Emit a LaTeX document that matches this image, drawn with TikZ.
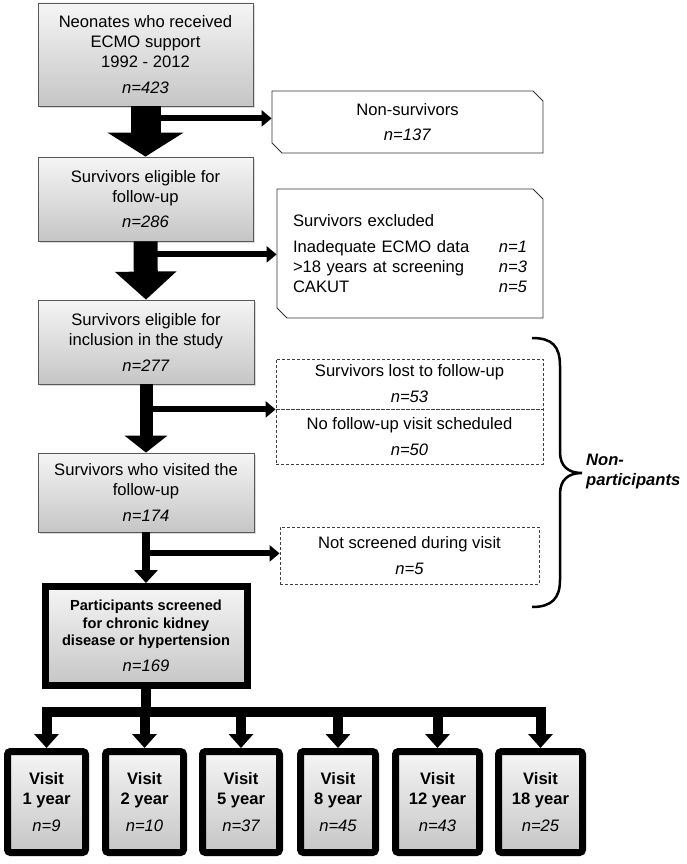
\documentclass[tikz,border=0pt]{standalone}
\usepackage{fontspec}
\setmainfont{Liberation Sans}
\usetikzlibrary{arrows.meta,shadows,shapes.misc}
\tikzset{
  boxshadow/.style={drop shadow={opacity=0.3,shadow xshift=2pt,shadow yshift=-2pt}},
  graybox/.style={draw=gray!70!black,line width=0.8pt,top color=gray!8,bottom color=gray!45,boxshadow,align=center,inner sep=0pt},
  snipbox/.style={draw=gray!40!black,line width=0.8pt,fill=white,chamfered rectangle,chamfered rectangle corners={north east,south west},chamfered rectangle xsep=5pt,chamfered rectangle ysep=5pt,inner sep=0pt},
  dashbox/.style={draw=gray!50!black,line width=0.8pt,dash pattern=on 3pt off 2pt,align=center,inner sep=0pt},
  visitbox/.style={draw=black,line width=7pt,rounded corners=3pt,top color=gray!8,bottom color=gray!45,boxshadow,align=center,minimum height=101pt,inner sep=0pt,font=\fontsize{16.6}{20}\selectfont\bfseries},
  sidearrow/.style={line width=6pt,-{Triangle[length=10pt,width=16pt]}},
  treearrow/.style={line width=10pt,line join=miter,-{Triangle[length=14pt,width=24pt]}}
}
\begin{document}
\begin{tikzpicture}[x=1pt,y=-1pt,font=\fontsize{16.6}{20}\selectfont]
\useasboundingbox (0,0) rectangle (686,864);
%boxes on the left
\node[graybox,minimum width=215pt,minimum height=103pt] (neo) at (145.5,54.5) {Neonates who received\\ECMO support\\1992 - 2012\\[6pt]\textit{n=423}};
\node[graybox,minimum width=215pt,minimum height=84pt] (elig) at (145.5,199) {Survivors eligible for\\follow-up\\[5pt]\textit{n=286}};
\node[graybox,minimum width=216pt,minimum height=84pt] (incl) at (146,342) {Survivors eligible for\\inclusion in the study\\[6pt]\textit{n=277}};
\node[graybox,minimum width=216pt,minimum height=79pt] (visited) at (146,492.5) {Survivors who visited the\\follow-up\\[6pt]\textit{n=174}};
\node[graybox,draw=black,line width=7pt,minimum width=202pt,minimum height=99pt,font=\fontsize{14.6}{17.5}\selectfont\bfseries] (part) at (146,636) {Participants screened\\for chronic kidney\\disease or hypertension\\[8pt]{\fontsize{16.6}{20}\selectfont\mdseries\itshape n=169}};
%boxes on the right
\node[snipbox,minimum width=271pt,minimum height=62pt,align=center] (nonsurv) at (407.5,122) {Non-survivors\\[5pt]\textit{n=137}};
\node[snipbox,minimum width=266pt,minimum height=129pt,text width=234pt,align=left] (excl) at (410,253.5) {Survivors excluded\\[6pt]
  Inadequate ECMO data\hfill\textit{n=1}\hspace*{12pt}\\
  >18 years at screening\hfill\textit{n=3}\hspace*{12pt}\\
  CAKUT\hfill\textit{n=5}\hspace*{12pt}};
\node[dashbox,minimum width=267pt,minimum height=50pt] (lost) at (409.5,384) {Survivors lost to follow-up\\[6pt]\textit{n=53}};
\node[dashbox,minimum width=267pt,minimum height=55pt] (nofu) at (409.5,436.5) {No follow-up visit scheduled\\[6pt]\textit{n=50}};
\node[dashbox,minimum width=259pt,minimum height=57pt] (notscr) at (409.5,555.5) {Not screened during visit\\[6pt]\textit{n=5}};
%visits
\foreach \vx/\vw/\yr/\vn [count=\i] in {46.5/78/1/9,144.5/78/2/10,241/77/5/37,338/75/8/45,437.5/84/12/43,540.5/84/18/25}
  \node[visitbox,minimum width=\vw pt] (v\i) at (\vx,802) {Visit\\\yr{} year\\[7pt]{\mdseries\itshape n=\vn}};
%branches to the right
\coordinate (br1) at ([yshift=-12pt]neo.south);
\coordinate (br2) at ([yshift=-13pt]elig.south);
\coordinate (br3) at ([yshift=-25pt]incl.south);
\coordinate (br4) at ([yshift=-21pt]visited.south);
\draw[sidearrow] (br1) -- (br1 -| nonsurv.west);
\draw[sidearrow] (br2) -- (br2 -| excl.west);
\draw[sidearrow] (br3) -- (br3 -| lost.west);
\draw[sidearrow] (br4) -- (br4 -| notscr.west);
%main arrows
\draw[line width=30pt,-{Triangle[length=24pt,width=75pt]}] (neo.south) -- (elig.north);
\draw[line width=24pt,-{Triangle[length=28pt,width=60pt]}] (elig.south) -- (incl.north);
\draw[line width=13pt,-{Triangle[length=17pt,width=42pt]}] (incl.south) -- (visited.north);
\draw[line width=8pt,-{Triangle[length=13pt,width=23pt]}] (visited.south) -- (part.north);
%tree
\coordinate (hub) at (145,712);
\draw[line width=10pt] (part.south) -- (part.south |- hub);
\foreach \i in {1,...,6}
  \draw[treearrow] (hub) -| (v\i.north);
%brace
\draw[line width=2.5pt] (532,338) .. controls (552,338) and (560,346) .. (560,366) -- (560,452) .. controls (560,466) and (568,473) .. (582,473) .. controls (568,473) and (560,480) .. (560,494) -- (560,580) .. controls (560,598) and (552,607) .. (532,607);
\node[font=\fontsize{16.6}{20}\selectfont\bfseries\itshape,align=left,anchor=west,inner sep=0pt] (nonpart) at (586,472) {Non-\\participants};
\end{tikzpicture}
\end{document}
